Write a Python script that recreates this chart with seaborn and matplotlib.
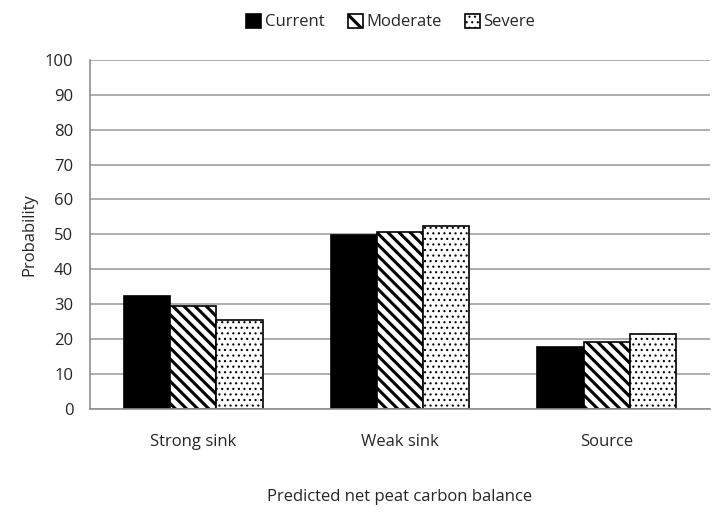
import seaborn as sns
import matplotlib.pyplot as plt
import pandas as pd

categories = ["Strong sink", "Weak sink", "Source"]
scenarios = ["Current", "Moderate", "Severe"]
current = [32.4, 49.7, 17.8]
moderate = [29.5, 50.8, 19.3]
severe = [25.6, 52.5, 21.6]

rows = []
for name, vals in zip(scenarios, [current, moderate, severe]):
    for cat, v in zip(categories, vals):
        rows.append({"Category": cat, "Scenario": name, "Probability": v})
df = pd.DataFrame(rows)

sns.set_style("white")
plt.rcParams['font.family'] = ['Open Sans', 'DejaVu Sans']
plt.rcParams['hatch.linewidth'] = 2.0

fig = plt.figure(figsize=(7.2, 5.2), dpi=100)
ax = fig.add_axes([0.125, 0.2135, 0.861, 0.6715])

sns.barplot(data=df, x="Category", y="Probability", hue="Scenario",
            order=categories, hue_order=scenarios, width=0.67,
            palette=["black", "white", "white"], edgecolor="black",
            linewidth=1.2, saturation=1, ax=ax)

hatches = ["", "\\\\\\", "..."]
hatch_lw = [1.0, 2.2, 0.8]


def style(bar, h, lw):
    bar.set_hatch(h)
    if hasattr(bar, "set_hatch_linewidth"):
        bar.set_hatch_linewidth(lw)


for cont, h, lw in zip(ax.containers, hatches, hatch_lw):
    for bar in cont:
        style(bar, h, lw)

ax.set_ylim(0, 100)
ax.set_xlim(-0.5, 2.5)
ax.set_yticks(range(0, 101, 10))
ax.yaxis.grid(True, color="#a0a0a0", linewidth=1.2)
ax.set_axisbelow(True)
for s in ["top", "right"]:
    ax.spines[s].set_visible(False)
for s in ["left", "bottom"]:
    ax.spines[s].set_color("#909090")
    ax.spines[s].set_linewidth(1.2)
ax.tick_params(axis="x", which="major", length=0, labelsize=12, pad=18)
ax.set_xticks([-0.5, 0.5, 1.5, 2.5], minor=True)
ax.tick_params(axis="x", which="minor", length=6, color="#909090", width=1.2)
ax.tick_params(axis="y", length=0, labelsize=12, pad=12)
ax.set_ylabel("Probability", fontsize=12, labelpad=5)
ax.set_xlabel("Predicted net peat carbon balance", fontsize=12, labelpad=28)

handles, labels = ax.get_legend_handles_labels()
leg = ax.legend(handles, labels, loc="upper center", bbox_to_anchor=(0.485, 1.175),
                ncol=3, frameon=False, fontsize=12, handlelength=0.9,
                handleheight=0.9, handletextpad=0.2, columnspacing=1.4)
for p, h, lw in zip(leg.get_patches(), hatches, hatch_lw):
    style(p, h.replace("\\\\\\", "\\\\"), lw)

fig.savefig("out.png", dpi=100)
